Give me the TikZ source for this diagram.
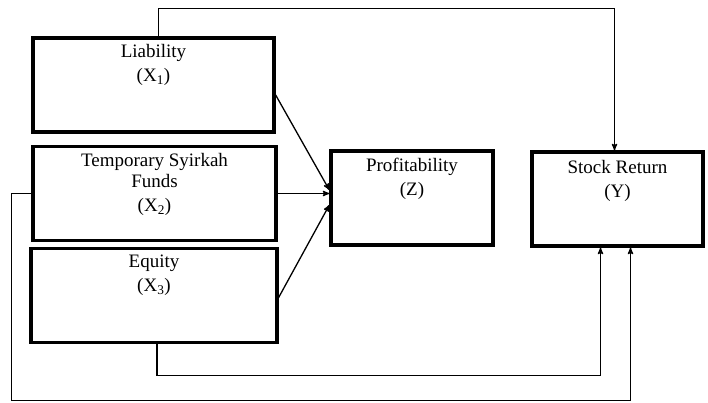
\documentclass[tikz,border=0pt]{standalone}
\usepackage{fontspec}
\setmainfont{Liberation Serif}
\usetikzlibrary{arrows, positioning}
\tikzset{
    %Define standard arrow tip
    >=stealth',
}
\begin{document}
\begin{tikzpicture}[x=1pt, y=-1pt,
    var/.style = {draw, line width=3.3pt, inner sep=0pt, minimum height=94pt},
    txt/.style = {font=\fontsize{19}{24}\selectfont, align=center, anchor=north, inner sep=0pt},
    ln/.style  = {line width=1.3pt},
  ]
  \useasboundingbox (0,0) rectangle (708,403);
  \node[var, minimum width=241pt] (lia)   at (153.5, 85)  {};
  \node[var, minimum width=243pt] (tsf)   at (154.5,193.5) {};
  \node[var, minimum width=246pt] (eq)    at (154, 295.5) {};
  \node[var, minimum width=162pt] (prof)  at (412, 198)   {};
  \node[var, minimum width=171pt] (stock) at (617.5,199)  {};
  \node[txt] (liat)   at ([yshift=-8pt]lia.north)   {Liability\\(X\textsubscript{1})};
  \node[txt] (tsft)   at ([yshift=-8pt]tsf.north)   {Temporary Syirkah\\[-3pt]Funds\\(X\textsubscript{2})};
  \node[txt] (eqt)    at ([yshift=-8pt]eq.north)    {Equity\\(X\textsubscript{3})};
  \node[txt] (proft)  at ([yshift=-9pt]prof.north)  {Profitability\\(Z)};
  \node[txt] (stockt) at ([yshift=-10pt]stock.north) {Stock Return\\(Y)};
  \draw[ln,->] ([yshift=-10pt]lia.east) -- ([yshift=8pt]prof.west);
  \draw[ln,->] (tsf.east) -- (tsf.east -| prof.west);
  \draw[ln,->] ([yshift=-2pt]eq.east) -- ([yshift=-7pt]prof.west);
  \draw[ln,->] ([xshift=5pt]lia.north) -- ++(0,-28) -| ([xshift=-3pt]stock.north);
  \draw[ln,->] ([xshift=3pt]eq.south) -- ++(0,31) -| ([xshift=-17pt]stock.south);
  \draw[ln,->] (tsf.west) -- ++(-20,0) -- ++(0,207) -| ([xshift=13pt]stock.south);
\end{tikzpicture}
\end{document}
